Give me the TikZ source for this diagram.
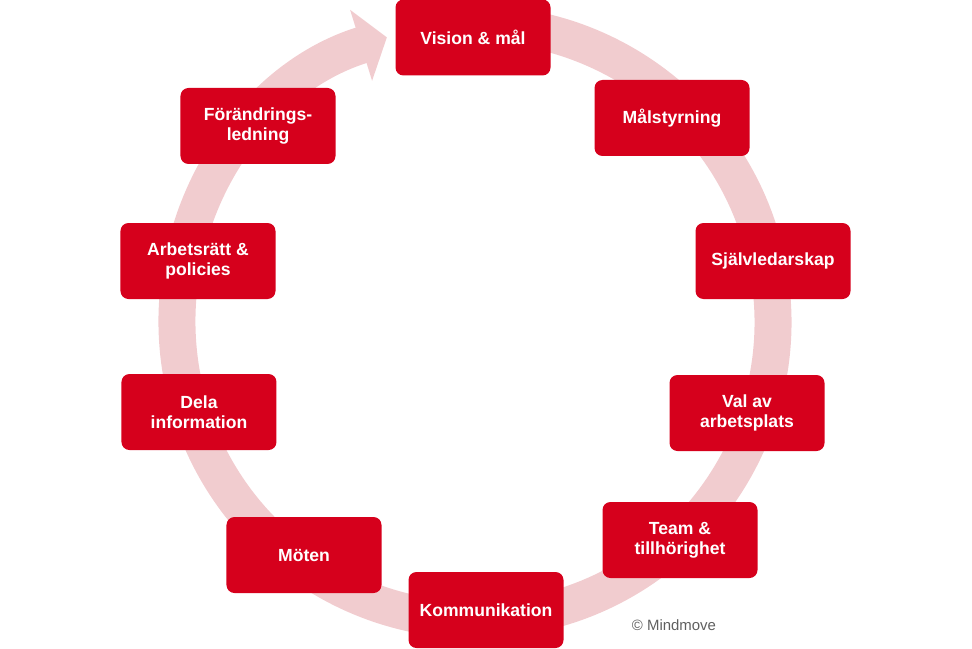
\documentclass[tikz,border=0pt]{standalone}
\usepackage{fontspec}
\setmainfont{Liberation Sans}
\usepackage{tikz}
\usetikzlibrary{arrows.meta}
\definecolor{boxred}{RGB}{214,0,28}
\definecolor{ringpink}{RGB}{241,204,207}
\definecolor{notegray}{RGB}{95,95,95}

\begin{document}
\begin{tikzpicture}[
        box/.style={rectangle, rounded corners=0.16cm, fill=boxred, text=white,
          font=\bfseries\fontsize{10}{11.5}\selectfont, align=center,
          minimum width=3.1cm, minimum height=1.52cm, inner sep=0pt},
        ring/.style={line width=0.74cm, draw=ringpink,
          -{Triangle[length=0.54cm, width=1.46cm]}}]
        \useasboundingbox (-9.5,-6.52) rectangle (9.94,6.44);

        \draw[ring] (98:5.96) arc[start angle=98, end angle=-252.8, radius=5.96];

        \node[box] (1)  at (-0.04, 5.69) {Vision \& mål};
        \node[box] (2)  at (3.94, 4.08)  {Målstyrning};
        \node[box] (3)  at (5.96, 1.22)  {Självledarskap};
        \node[box] (4)  at (5.44, -1.82) {Val av\\arbetsplats};
        \node[box] (5)  at (4.10, -4.36) {Team \&\\tillhörighet};
        \node[box] (6)  at (0.22, -5.76) {Kommunikation};
        \node[box] (7)  at (-3.42, -4.66) {Möten};
        \node[box] (8)  at (-5.52, -1.80) {Dela\\information};
        \node[box] (9)  at (-5.54, 1.22) {Arbetsrätt \&\\policies};
        \node[box] (10) at (-4.34, 3.92) {Förändrings-\\ledning};

        \node[text=notegray, font=\fontsize{8.5}{10}\selectfont] (c) at (3.98, -6.06) {\textcopyright{} Mindmove};
      \end{tikzpicture}
\end{document}
